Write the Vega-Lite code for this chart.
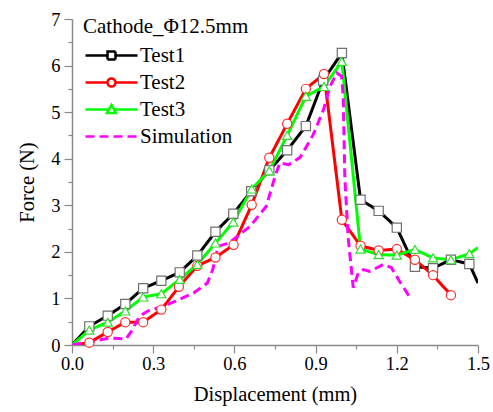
{
  "$schema": "https://vega.github.io/schema/vega-lite/v6.json",
  "autosize": {"type": "none"},
  "padding": {"left": 72, "top": 19, "right": 15, "bottom": 67},
  "width": 406,
  "height": 326,
  "config": {
    "font": "Liberation Serif",
    "view": {"stroke": null},
    "axis": {
      "labelFont": "Liberation Serif",
      "titleFont": "Liberation Serif",
      "labelFontSize": 18.5,
      "titleFontSize": 20.5,
      "titleFontWeight": "normal",
      "labelColor": "#000000",
      "titleColor": "#000000",
      "domainColor": "#8a8a8a",
      "tickColor": "#8a8a8a",
      "domainWidth": 1.5,
      "tickWidth": 1.2,
      "grid": false
    },
    "legend": {
      "labelFont": "Liberation Serif",
      "titleFont": "Liberation Serif"
    }
  },
  "datasets": {
    "curves": [
      {"series": "Test1", "x": 0, "y": 0},
      {"series": "Test1", "x": 0.064, "y": 0.40},
      {"series": "Test1", "x": 0.132, "y": 0.63},
      {"series": "Test1", "x": 0.197, "y": 0.88},
      {"series": "Test1", "x": 0.263, "y": 1.22},
      {"series": "Test1", "x": 0.33, "y": 1.38},
      {"series": "Test1", "x": 0.398, "y": 1.56},
      {"series": "Test1", "x": 0.463, "y": 1.92},
      {"series": "Test1", "x": 0.53, "y": 2.43},
      {"series": "Test1", "x": 0.596, "y": 2.82},
      {"series": "Test1", "x": 0.662, "y": 3.30},
      {"series": "Test1", "x": 0.729, "y": 3.75},
      {"series": "Test1", "x": 0.795, "y": 4.18},
      {"series": "Test1", "x": 0.864, "y": 4.70},
      {"series": "Test1", "x": 0.928, "y": 5.68},
      {"series": "Test1", "x": 0.997, "y": 6.27},
      {"series": "Test1", "x": 1.066, "y": 3.12},
      {"series": "Test1", "x": 1.133, "y": 2.88},
      {"series": "Test1", "x": 1.2, "y": 2.52},
      {"series": "Test1", "x": 1.267, "y": 1.68},
      {"series": "Test1", "x": 1.334, "y": 1.65},
      {"series": "Test1", "x": 1.4, "y": 1.83},
      {"series": "Test1", "x": 1.468, "y": 1.74},
      {"series": "Test1", "x": 1.5, "y": 1.33},
      {"series": "Test2", "x": 0, "y": 0},
      {"series": "Test2", "x": 0.064, "y": 0.05},
      {"series": "Test2", "x": 0.132, "y": 0.28},
      {"series": "Test2", "x": 0.197, "y": 0.49},
      {"series": "Test2", "x": 0.263, "y": 0.49},
      {"series": "Test2", "x": 0.33, "y": 0.76},
      {"series": "Test2", "x": 0.395, "y": 1.25},
      {"series": "Test2", "x": 0.463, "y": 1.70},
      {"series": "Test2", "x": 0.53, "y": 1.88},
      {"series": "Test2", "x": 0.597, "y": 2.15},
      {"series": "Test2", "x": 0.664, "y": 3.01},
      {"series": "Test2", "x": 0.729, "y": 4.02},
      {"series": "Test2", "x": 0.795, "y": 4.75},
      {"series": "Test2", "x": 0.864, "y": 5.50},
      {"series": "Test2", "x": 0.931, "y": 5.82},
      {"series": "Test2", "x": 0.997, "y": 2.69},
      {"series": "Test2", "x": 1.066, "y": 2.13},
      {"series": "Test2", "x": 1.133, "y": 2.03},
      {"series": "Test2", "x": 1.2, "y": 2.06},
      {"series": "Test2", "x": 1.267, "y": 1.83},
      {"series": "Test2", "x": 1.334, "y": 1.50},
      {"series": "Test2", "x": 1.4, "y": 1.07},
      {"series": "Test3", "x": 0, "y": 0},
      {"series": "Test3", "x": 0.064, "y": 0.32},
      {"series": "Test3", "x": 0.132, "y": 0.49},
      {"series": "Test3", "x": 0.197, "y": 0.73},
      {"series": "Test3", "x": 0.263, "y": 1.03},
      {"series": "Test3", "x": 0.33, "y": 1.10},
      {"series": "Test3", "x": 0.398, "y": 1.41},
      {"series": "Test3", "x": 0.463, "y": 1.73},
      {"series": "Test3", "x": 0.53, "y": 2.19},
      {"series": "Test3", "x": 0.596, "y": 2.64},
      {"series": "Test3", "x": 0.664, "y": 3.35},
      {"series": "Test3", "x": 0.729, "y": 3.74},
      {"series": "Test3", "x": 0.795, "y": 4.50},
      {"series": "Test3", "x": 0.864, "y": 5.34},
      {"series": "Test3", "x": 0.931, "y": 5.55},
      {"series": "Test3", "x": 0.997, "y": 6.09},
      {"series": "Test3", "x": 1.066, "y": 2.06},
      {"series": "Test3", "x": 1.133, "y": 1.94},
      {"series": "Test3", "x": 1.2, "y": 1.93},
      {"series": "Test3", "x": 1.267, "y": 2.05},
      {"series": "Test3", "x": 1.334, "y": 1.87},
      {"series": "Test3", "x": 1.4, "y": 1.83},
      {"series": "Test3", "x": 1.468, "y": 1.96},
      {"series": "Test3", "x": 1.5, "y": 2.09},
      {"series": "Simulation", "x": 0, "y": 0},
      {"series": "Simulation", "x": 0.08, "y": 0.08},
      {"series": "Simulation", "x": 0.14, "y": 0.15},
      {"series": "Simulation", "x": 0.2, "y": 0.13},
      {"series": "Simulation", "x": 0.22, "y": 0.30},
      {"series": "Simulation", "x": 0.25, "y": 0.62},
      {"series": "Simulation", "x": 0.28, "y": 0.73},
      {"series": "Simulation", "x": 0.32, "y": 0.80},
      {"series": "Simulation", "x": 0.37, "y": 0.91},
      {"series": "Simulation", "x": 0.45, "y": 1.12},
      {"series": "Simulation", "x": 0.5, "y": 1.33},
      {"series": "Simulation", "x": 0.52, "y": 1.62},
      {"series": "Simulation", "x": 0.54, "y": 2.12},
      {"series": "Simulation", "x": 0.58, "y": 2.19},
      {"series": "Simulation", "x": 0.658, "y": 2.55},
      {"series": "Simulation", "x": 0.718, "y": 2.98},
      {"series": "Simulation", "x": 0.75, "y": 3.62},
      {"series": "Simulation", "x": 0.768, "y": 3.91},
      {"series": "Simulation", "x": 0.8, "y": 3.87},
      {"series": "Simulation", "x": 0.843, "y": 4.03},
      {"series": "Simulation", "x": 0.89, "y": 4.50},
      {"series": "Simulation", "x": 0.929, "y": 5.05},
      {"series": "Simulation", "x": 0.953, "y": 5.55},
      {"series": "Simulation", "x": 0.978, "y": 5.84},
      {"series": "Simulation", "x": 0.996, "y": 5.77},
      {"series": "Simulation", "x": 1.002, "y": 5.34},
      {"series": "Simulation", "x": 1.008, "y": 3.60},
      {"series": "Simulation", "x": 1.02, "y": 2.33},
      {"series": "Simulation", "x": 1.039, "y": 1.23},
      {"series": "Simulation", "x": 1.058, "y": 1.55},
      {"series": "Simulation", "x": 1.077, "y": 1.62},
      {"series": "Simulation", "x": 1.1, "y": 1.58},
      {"series": "Simulation", "x": 1.15, "y": 1.73},
      {"series": "Simulation", "x": 1.18, "y": 1.66},
      {"series": "Simulation", "x": 1.21, "y": 1.37},
      {"series": "Simulation", "x": 1.25, "y": 1.01}
    ]
  },
  "data": {"name": "curves"},
  "encoding": {
    "x": {
      "field": "x",
      "type": "quantitative",
      "scale": {"domain": [0, 1.5], "nice": false, "zero": false},
      "axis": {
        "title": "Displacement (mm)",
        "values": [0, 0.15, 0.3, 0.45, 0.6, 0.75, 0.9, 1.05, 1.2, 1.35, 1.5],
        "labelExpr": "round(datum.value*100) % 30 == 0 ? format(datum.value, '.1f') : ''",
        "tickSize": {"condition": {"test": "round(datum.value*100) % 30 == 0", "value": 8}, "value": 4},
        "labelPadding": 1,
        "labelOverlap": false,
        "labelFlush": false,
        "titlePadding": 12
      }
    },
    "y": {
      "field": "y",
      "type": "quantitative",
      "scale": {"domain": [0, 7], "nice": false},
      "axis": {
        "title": "Force (N)",
        "values": [0, 0.5, 1, 1.5, 2, 2.5, 3, 3.5, 4, 4.5, 5, 5.5, 6, 6.5, 7],
        "labelExpr": "datum.value % 1 == 0 ? datum.value : ''",
        "tickSize": {"condition": {"test": "datum.value % 1 == 0", "value": 8}, "value": 4},
        "labelPadding": 4,
        "labelOverlap": false,
        "labelFlush": false,
        "titlePadding": 13
      }
    }
  },
  "layer": [
    {
      "mark": {"type": "line", "strokeWidth": 3, "clip": true},
      "encoding": {
        "color": {
          "field": "series",
          "type": "nominal",
          "sort": ["Test1", "Test2", "Test3", "Simulation"],
          "scale": {"domain": ["Test1", "Test2", "Test3", "Simulation"], "range": ["#000000", "#ff0000", "#00ff00", "#ff00ff"]},
          "legend": {
            "title": "Cathode_Φ12.5mm",
            "orient": "none",
            "legendX": 11,
            "legendY": -3,
            "padding": 0,
            "titleFont": "Liberation Serif",
            "labelFont": "Liberation Serif",
            "titleFontSize": 21,
            "titleFontWeight": "normal",
            "titleColor": "#000000",
            "titlePadding": 8,
            "labelFontSize": 21,
            "labelColor": "#000000",
            "labelOffset": 36,
            "rowPadding": 5,
            "symbolSize": 100,
            "symbolStrokeWidth": 2.5,
            "encode": {
              "symbols": {
                "update": {
                  "shape": {"signal": "datum.value == 'Test1' ? 'M-1.6,0H2.8M4.4,0H8.8M2.8,-0.8H4.4V0.8H2.8Z' : datum.value == 'Test2' ? 'M-1.6,0H2.8M4.4,0H8.8M2.8,0A0.8,0.8 0 1,0 4.4,0A0.8,0.8 0 1,0 2.8,0Z' : datum.value == 'Test3' ? 'M-1.6,0H3.09M4.11,0H8.8M3.6,-0.9L4.5,0.7H2.7Z' : 'M-1.6,0H8.8'"},
                  "fill": {"value": "#ffffff"},
                  "size": {"value": 100}
                }
              }
            }
          }
        },
        "strokeDash": {
          "field": "series",
          "type": "nominal",
          "sort": ["Test1", "Test2", "Test3", "Simulation"],
          "scale": {"domain": ["Test1", "Test2", "Test3", "Simulation"], "range": [[1, 0], [1, 0], [1, 0], [9, 5]]},
          "legend": {"title": "Cathode_Φ12.5mm"}
        }
      }
    },
    {
      "transform": [
        {"filter": "datum.series != 'Simulation' && datum.x > 0 && datum.x < 1.49"}
      ],
      "mark": {"type": "point", "filled": false, "fill": "#ffffff", "fillOpacity": 1, "opacity": 1, "strokeWidth": 1.2},
      "encoding": {
        "shape": {
          "field": "series",
          "type": "nominal",
          "scale": {"domain": ["Test1", "Test2", "Test3"], "range": ["square", "circle", "triangle-up"]},
          "legend": null
        },
        "stroke": {
          "field": "series",
          "type": "nominal",
          "scale": {"domain": ["Test1", "Test2", "Test3"], "range": ["#707070", "#ff3030", "#30e030"]},
          "legend": null
        },
        "size": {"value": 85}
      }
    }
  ]
}
